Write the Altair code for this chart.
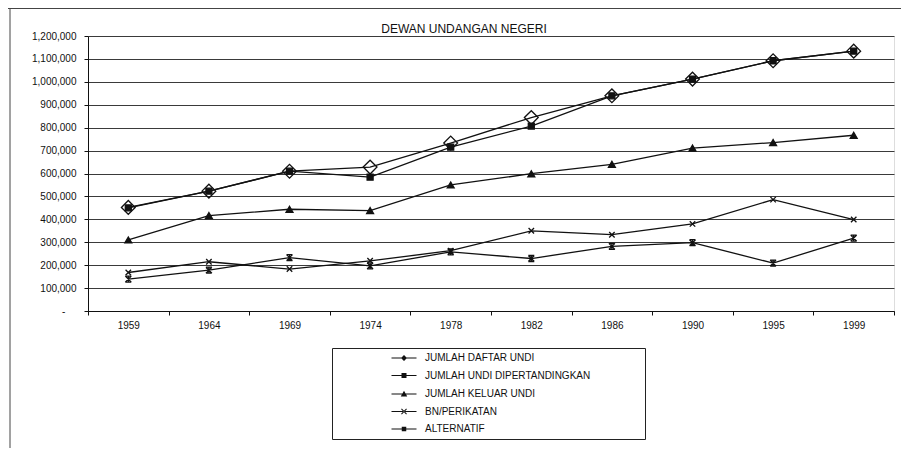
import altair as alt
import pandas as pd

years = ["1959", "1964", "1969", "1974", "1978", "1982", "1986", "1990", "1995", "1999"]
series_names = [
    "JUMLAH DAFTAR UNDI",
    "JUMLAH UNDI DIPERTANDINGKAN",
    "JUMLAH KELUAR UNDI",
    "BN/PERIKATAN",
    "ALTERNATIF",
]
daftar = [452000, 523000, 610000, 628000, 733000, 844000, 939000, 1012000, 1092000, 1134000]
dipertandingkan = [450000, 523000, 610000, 584000, 715000, 807000, 939000, 1012000, 1092000, 1134000]
keluar = [310000, 416000, 444000, 438000, 550000, 599000, 640000, 711000, 735000, 767000]
bn = [168000, 215000, 183000, 219000, 263000, 350000, 333000, 380000, 486000, 399000]
alternatif = [139000, 178000, 233000, 197000, 258000, 229000, 282000, 298000, 209000, 318000]
y_ticks = list(range(0, 1200001, 100000))

values_by_series = [daftar, dipertandingkan, keluar, bn, alternatif]
rows = []
# draw order: lower series first so the hollow diamonds sit on top
for name, vals in reversed(list(zip(series_names, values_by_series))):
    for yr, v in zip(years, vals):
        rows.append({"year": yr, "value": v, "series": name})
df = pd.DataFrame(rows)

FONT = "Liberation Sans"
INK = "#111111"
NB = "\u00a0"
ZW = "\u200b"

x_enc = alt.X(
    "year:N",
    sort=years,
    scale=alt.Scale(type="band", paddingInner=0, paddingOuter=0),
    axis=alt.Axis(
        title=None, labelAngle=0, grid=False, tickBand="extent", tickSize=4,
        labelPadding=5, domainColor=INK, tickColor=INK, labelColor=INK,
        labelFont=FONT, labelFontSize=10,
    ),
)
y_enc = alt.Y(
    "value:Q",
    scale=alt.Scale(domain=[0, 1200000], nice=False),
    axis=alt.Axis(
        title=None, values=y_ticks, grid=True, gridColor="#3a3a3a", gridWidth=1,
        tickSize=4, labelPadding=8, domainColor=INK, tickColor=INK, labelColor=INK,
        labelFont=FONT, labelFontSize=10,
        labelExpr="datum.value == 0 ? '-" + NB * 4 + ZW + "' : format(datum.value, ',')",
    ),
)

base = alt.Chart(df)

lines = base.mark_line(color=INK, strokeWidth=1.3).encode(
    x=x_enc, y=y_enc, detail="series:N"
)

plot_shapes = [
    "diamond",
    "square",
    "triangle-up",
    "M-1,-1L1,1M-1,1L1,-1",
    "M-1,-1H1M-1,1H1M-1,-1L1,1M-1,1L1,-1M0,-1V1",
]
points = base.mark_point(stroke=INK, strokeWidth=1.3, opacity=1).encode(
    x=x_enc,
    y=y_enc,
    shape=alt.Shape("series:N", scale=alt.Scale(domain=series_names, range=plot_shapes), legend=None),
    fill=alt.Fill("series:N", scale=alt.Scale(domain=series_names,
                  range=["transparent", INK, INK, "transparent", "transparent"]), legend=None),
    size=alt.Size("series:N", scale=alt.Scale(type="ordinal", domain=series_names,
                  range=[190, 36, 48, 30, 36]), legend=None),
)

# legend glyphs drawn with fill only: a thin bar for the line plus the marker
seg = "M-2.5,-0.12H2.5V0.12H-2.5Z"
legend_shapes = [
    seg + "M0,-0.6L0.6,0L0,0.6L-0.6,0Z",
    seg + "M-0.5,-0.5H0.5V0.5H-0.5Z",
    seg + "M0,-0.65L0.65,0.5H-0.65Z",
    seg + "M-0.58,-0.44L-0.44,-0.58L0.58,0.44L0.44,0.58Z"
          "M-0.58,0.44L-0.44,0.58L0.58,-0.44L0.44,-0.58Z",
    seg + "M-0.45,-0.45H0.45V0.45H-0.45Z",
]
legend_layer = base.transform_filter("false").mark_point(
    filled=True, color=INK, opacity=1
).encode(
    shape=alt.Shape(
        "series:N",
        scale=alt.Scale(domain=series_names, range=legend_shapes),
        legend=alt.Legend(
            title=None, orient="none", legendX=244, legendY=312,
            padding=4, strokeColor="#222222", fillColor="white",
            symbolSize=100, symbolFillColor=INK, symbolOffset=62, labelOffset=15,
            rowPadding=5.5, labelFont=FONT, labelFontSize=10, labelColor=INK,
            labelLimit=400,
            labelExpr="datum.label + '" + NB * 18 + ZW + "'",
        ),
    )
)

frame_data = alt.Data(values=[{"k": 1}])
frame_top = alt.Chart(frame_data).mark_rule(color="#444444", strokeWidth=1).encode(
    x=alt.value(-80), x2=alt.value(813), y=alt.value(-27.5)
)
frame_left = alt.Chart(frame_data).mark_rule(color="#444444", strokeWidth=1).encode(
    x=alt.value(-78), y=alt.value(-28), y2=alt.value(412)
)

chart = alt.layer(lines, points, legend_layer, frame_top, frame_left).resolve_scale(
    shape="independent"
).properties(
    width=806,
    height=275,
    title=alt.Title(
        "DEWAN UNDANGAN NEGERI", fontSize=12, font=FONT, fontWeight="normal",
        color=INK, anchor="middle", frame="group", offset=-28, dx=-27,
    ),
    autosize=alt.AutoSizeParams(type="none"),
    padding={"left": 80, "top": 28, "right": 7, "bottom": 137},
).configure_view(stroke="transparent").configure(background="white")

chart.save("out.html", embed_options={"renderer": "svg", "actions": False})
